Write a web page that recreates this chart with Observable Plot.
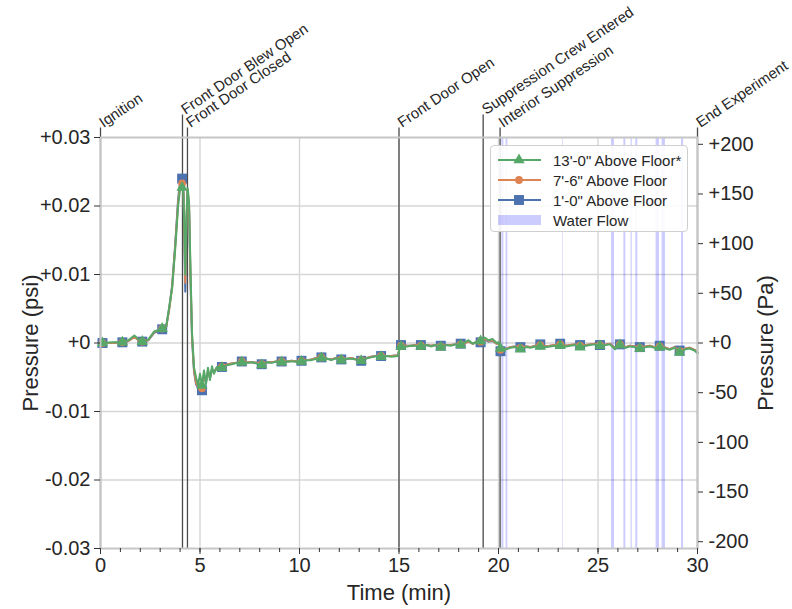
<!DOCTYPE html>
<html>
<head>
<meta charset="utf-8">
<script src="https://cdn.jsdelivr.net/npm/d3@7"></script>
<script src="https://cdn.jsdelivr.net/npm/@observablehq/plot@0.6"></script>
<style>
  html, body { margin: 0; padding: 0; background: #fff; }
  #wrap { position: relative; width: 792px; height: 609px; font-family: 'Liberation Sans', Arial, sans-serif; }
  #legend { position: absolute; left: 490px; top: 145px; width: 198px; height: 87px; box-sizing: border-box;
            background: rgba(255,255,255,0.9); border: 1px solid #cfcfcf; border-radius: 4px; padding-top: 4px; }
  .row { height: 20px; display: flex; align-items: center; font-size: 15px; color: #262626; }
  .row svg { margin-left: 6px; margin-right: 12px; }
</style>
</head>
<body>
<div id="wrap">
  <div id="chart"></div>
  <div id="legend"></div>
</div>
<script>
// ---- data (time in minutes, pressure in psi) ----
const T = [0.1, 0.6, 1.1, 1.4, 1.7, 2.0, 2.1, 2.4, 2.7, 3.1, 3.3, 3.45, 3.6, 3.75, 3.9, 4.0, 4.1, 4.17, 4.22, 4.26,
  4.32, 4.38, 4.45, 4.52, 4.6, 4.7, 4.8, 4.9, 5.0, 5.1, 5.2, 5.3, 5.4, 5.5, 5.6, 5.7, 5.85, 6.1, 6.4, 6.6,
  6.85, 7.1, 7.4, 7.6, 7.85, 8.1, 8.4, 8.6, 8.85, 9.1, 9.4, 9.6, 9.85, 10.1, 10.4, 10.6, 10.85, 11.1, 11.4, 11.6,
  11.85, 12.1, 12.4, 12.6, 12.85, 13.1, 13.4, 13.6, 13.85, 14.1, 14.4, 14.6, 14.95, 15.05, 15.1, 15.4, 15.6, 15.85, 16.1, 16.4,
  16.6, 16.85, 17.1, 17.4, 17.6, 17.85, 18.1, 18.3, 18.5, 18.7, 18.9, 19.1, 19.3, 19.5, 19.7, 19.9, 20.0, 20.1, 20.4, 20.6,
  20.85, 21.1, 21.4, 21.6, 21.85, 22.1, 22.4, 22.6, 22.85, 23.1, 23.4, 23.6, 23.85, 24.1, 24.4, 24.6, 24.85, 25.1, 25.4, 25.6,
  25.85, 26.1, 26.4, 26.6, 26.85, 27.1, 27.4, 27.6, 27.85, 28.1, 28.4, 28.6, 28.85, 29.1, 29.4, 29.6, 29.85, 30.0];

const p1ft = [0.0000, 0.0000, 0.0001, 0.0003, 0.0009, 0.0002, 0.0002, 0.0004, 0.0015, 0.0020, 0.0023, 0.0050, 0.0084, 0.0142, 0.0210, 0.0236, 0.0240, 0.0222, 0.0140, 0.0075,
  0.0175, 0.0222, 0.0195, 0.0095, 0.0005, -0.0042, -0.0060, -0.0066, -0.0060, -0.0069, -0.0046, -0.0058, -0.0041, -0.0051, -0.0039, -0.0042, -0.0036, -0.0035, -0.0031, -0.0030,
  -0.0029, -0.0027, -0.0028, -0.0028, -0.0029, -0.0031, -0.0028, -0.0028, -0.0027, -0.0027, -0.0027, -0.0026, -0.0027, -0.0026, -0.0025, -0.0024, -0.0022, -0.0021, -0.0023, -0.0024,
  -0.0022, -0.0024, -0.0023, -0.0022, -0.0024, -0.0026, -0.0022, -0.0020, -0.0019, -0.0019, -0.0019, -0.0019, -0.0018, -0.0004, -0.0003, -0.0004, -0.0004, -0.0003, -0.0003, -0.0003,
  -0.0004, -0.0003, -0.0004, -0.0003, -0.0003, -0.0002, -0.0001, 0.0000, 0.0002, -0.0001, 0.0001, 0.0001, 0.0005, 0.0002, 0.0003, -0.0001, 0.0000, -0.0012, -0.0008, -0.0006,
  -0.0005, -0.0006, -0.0005, -0.0006, -0.0004, -0.0002, -0.0005, -0.0004, -0.0003, -0.0001, -0.0004, -0.0003, -0.0002, -0.0003, -0.0003, -0.0002, -0.0001, -0.0003, -0.0002, -0.0001,
  -0.0007, -0.0002, -0.0006, -0.0004, -0.0005, -0.0006, -0.0005, -0.0004, -0.0006, -0.0004, -0.0007, -0.0009, -0.0006, -0.0011, -0.0008, -0.0007, -0.0010, -0.0014];

const p7ft6 = [0.0000, 0.0000, 0.0001, 0.0003, 0.0009, 0.0002, 0.0002, 0.0004, 0.0016, 0.0021, 0.0024, 0.0048, 0.0082, 0.0140, 0.0205, 0.0230, 0.0233, 0.0220, 0.0150, 0.0088,
  0.0180, 0.0224, 0.0200, 0.0100, 0.0010, -0.0040, -0.0058, -0.0064, -0.0059, -0.0066, -0.0046, -0.0056, -0.0041, -0.0050, -0.0039, -0.0042, -0.0036, -0.0035, -0.0031, -0.0030,
  -0.0029, -0.0027, -0.0028, -0.0028, -0.0029, -0.0031, -0.0028, -0.0028, -0.0027, -0.0027, -0.0027, -0.0026, -0.0027, -0.0026, -0.0025, -0.0024, -0.0022, -0.0021, -0.0023, -0.0024,
  -0.0022, -0.0024, -0.0023, -0.0022, -0.0024, -0.0025, -0.0022, -0.0020, -0.0019, -0.0019, -0.0019, -0.0019, -0.0018, -0.0004, -0.0004, -0.0004, -0.0004, -0.0003, -0.0004, -0.0003,
  -0.0004, -0.0003, -0.0005, -0.0003, -0.0003, -0.0002, -0.0002, 0.0000, 0.0002, -0.0001, 0.0001, 0.0002, 0.0006, 0.0003, 0.0004, -0.0001, 0.0000, -0.0010, -0.0008, -0.0006,
  -0.0005, -0.0007, -0.0005, -0.0006, -0.0004, -0.0003, -0.0005, -0.0004, -0.0003, -0.0002, -0.0004, -0.0003, -0.0002, -0.0004, -0.0003, -0.0002, -0.0001, -0.0003, -0.0002, -0.0001,
  -0.0008, -0.0002, -0.0006, -0.0004, -0.0005, -0.0007, -0.0005, -0.0004, -0.0006, -0.0005, -0.0007, -0.0009, -0.0006, -0.0012, -0.0008, -0.0007, -0.0010, -0.0014];

const p13ft = [0.0000, 0.0001, 0.0001, 0.0004, 0.0011, 0.0003, 0.0002, 0.0005, 0.0017, 0.0021, 0.0024, 0.0052, 0.0080, 0.0136, 0.0200, 0.0225, 0.0227, 0.0218, 0.0160, 0.0100,
  0.0185, 0.0226, 0.0205, 0.0110, 0.0015, -0.0036, -0.0050, -0.0062, -0.0045, -0.0062, -0.0040, -0.0060, -0.0036, -0.0054, -0.0034, -0.0045, -0.0035, -0.0036, -0.0032, -0.0031,
  -0.0029, -0.0028, -0.0029, -0.0028, -0.0030, -0.0032, -0.0028, -0.0029, -0.0027, -0.0028, -0.0027, -0.0027, -0.0027, -0.0027, -0.0025, -0.0025, -0.0023, -0.0022, -0.0023, -0.0025,
  -0.0022, -0.0025, -0.0023, -0.0023, -0.0024, -0.0026, -0.0022, -0.0021, -0.0019, -0.0020, -0.0019, -0.0020, -0.0019, -0.0005, -0.0005, -0.0005, -0.0004, -0.0004, -0.0005, -0.0003,
  -0.0005, -0.0003, -0.0006, -0.0003, -0.0004, -0.0002, -0.0003, 0.0001, 0.0004, -0.0001, 0.0002, 0.0003, 0.0008, 0.0004, 0.0006, 0.0000, 0.0001, -0.0008, -0.0009, -0.0007,
  -0.0006, -0.0009, -0.0006, -0.0007, -0.0005, -0.0005, -0.0006, -0.0005, -0.0004, -0.0004, -0.0005, -0.0004, -0.0003, -0.0006, -0.0004, -0.0003, -0.0002, -0.0004, -0.0003, -0.0002,
  -0.0009, -0.0003, -0.0007, -0.0005, -0.0006, -0.0008, -0.0006, -0.0005, -0.0007, -0.0006, -0.0008, -0.0010, -0.0007, -0.0014, -0.0009, -0.0008, -0.0011, -0.0015];

const seriesNames = ["1'-0\" Above Floor", "7'-6\" Above Floor", "13'-0\" Above Floor*"];
const seriesColors = ["#4c72b0", "#dd8452", "#55a868"];
const seriesSymbols = ["square", "circle", "triangle"];
const seriesValues = [p1ft, p7ft6, p13ft];

const eventTimes = [0, 4.12, 4.37, 15, 19.23, 20.08, 30];
const eventLabels = ["Ignition", "Front Door Blew Open", "Front Door Closed", "Front Door Open",
  "Suppression Crew Entered", "Interior Suppression", "End Experiment"];
const eventRaised = [false, true, false, false, true, false, false];

const waterStart = [20.17, 20.38, 23.23, 25.68, 26.3, 26.66, 26.9, 27.92, 28.22, 29.2];
const waterEnd   = [20.27, 20.47, 23.26, 25.83, 26.4, 26.72, 27.0, 28.09, 28.39, 29.3];
const waterLabel = "Water Flow";

const psiTicks = [-0.03, -0.02, -0.01, 0, 0.01, 0.02, 0.03];
const paTicks = [-200, -150, -100, -50, 0, 50, 100, 150, 200];
const timeTicks = [0, 5, 10, 15, 20, 25, 30];
const minuteTicks = [0,1,2,3,4,5,6,7,8,9,10,11,12,13,14,15,16,17,18,19,20,21,22,23,24,25,26,27,28,29,30];

const PA_PER_PSI = 6894.757;

// ---- build tables ----
const series = seriesNames.map((name, i) => ({name, color: seriesColors[i], symbol: seriesSymbols[i],
  rows: T.map((t, j) => ({t, v: seriesValues[i][j]}))}));
const isMarker = d => Math.abs(d.t - Math.floor(d.t) - 0.1) < 1e-9;
const events = eventTimes.map((t, i) => ({t, label: eventLabels[i], top: eventRaised[i] ? 0.0333 : 0.0314}));
const water = waterStart.map((s, i) => ({start: s, end: waterEnd[i]}));

const markR = {square: 5.6, circle: 3.9, triangle: 4.2};
const seriesMarks = [];
for (const s of series) {
  seriesMarks.push(Plot.line(s.rows, {x: "t", y: "v", stroke: s.color, strokeWidth: 2}));
  seriesMarks.push(Plot.dot(s.rows.filter(isMarker), {x: "t", y: "v", symbol: s.symbol, fill: s.color, r: markR[s.symbol]}));
}

const psiFmt = d => d === 0 ? "+0" : (d > 0 ? "+" : "-") + Math.abs(d).toFixed(2);
const paFmt = d => { const pa = Math.round(d * PA_PER_PSI); return pa === 0 ? "+0" : (pa > 0 ? "+" : "-") + Math.abs(pa); };

const chart = Plot.plot({
  width: 792,
  height: 609,
  marginTop: 137,
  marginBottom: 61,
  marginLeft: 100,
  marginRight: 95,
  x: {domain: [0, 30]},
  y: {domain: [-0.03, 0.03]},
  style: {fontFamily: "'Liberation Sans', Arial, sans-serif", fontSize: "15px", color: "#262626", background: "#fff", overflow: "visible"},
  marks: [
    Plot.gridY(psiTicks.slice(1, -1), {stroke: "#d6d6d6", strokeOpacity: 1, strokeWidth: 1.4}),
    Plot.gridX(timeTicks.slice(1, -1), {stroke: "#d6d6d6", strokeOpacity: 1, strokeWidth: 1.4}),
    Plot.rect(water, {x1: "start", x2: "end", fill: "#0000ff", fillOpacity: 0.2}),
    Plot.ruleX(events, {x: "t", y1: -0.03, y2: "top", stroke: "#4a4a4a", strokeWidth: 1.3}),
    ...seriesMarks,
    Plot.frame({stroke: "#c6c6c6", strokeWidth: 2}),
    Plot.axisY(psiTicks, {anchor: "left", tickFormat: psiFmt, tickSize: 6, tickPadding: 4, fontSize: 20, stroke: "#333", fill: "#262626", label: null}),
    Plot.axisY(paTicks.map(p => p / PA_PER_PSI), {anchor: "right", tickFormat: paFmt, tickSize: 5, tickPadding: 6, fontSize: 20, stroke: "#333", fill: "#262626", label: null}),
    Plot.axisX(minuteTicks, {anchor: "bottom", tickFormat: () => "", tickSize: 4, stroke: "#333", label: null}),
    Plot.axisX(timeTicks, {anchor: "bottom", tickFormat: d => String(d), tickSize: 6, tickPadding: 3, fontSize: 20, stroke: "#333", fill: "#262626", label: null}),
    Plot.text(events, {x: "t", y: "top", text: "label", rotate: -34, textAnchor: "start", lineAnchor: "bottom", dx: 3, dy: 0, fontSize: 15, fill: "#262626"}),
    Plot.text(["Pressure (psi)"], {text: d => d, frameAnchor: "left", textAnchor: "middle", lineAnchor: "middle", dx: -70, rotate: -90, fontSize: 22, fill: "#262626"}),
    Plot.text(["Pressure (Pa)"], {text: d => d, frameAnchor: "right", textAnchor: "middle", lineAnchor: "middle", dx: 68, rotate: -90, fontSize: 22, fill: "#262626"}),
    Plot.text(["Time (min)"], {text: d => d, frameAnchor: "bottom", textAnchor: "middle", lineAnchor: "middle", dy: 44, fontSize: 22, fill: "#262626"})
  ]
});
document.getElementById("chart").appendChild(chart);

// ---- legend (HTML overlay) ----
const legend = document.getElementById("legend");
const ns = "http://www.w3.org/2000/svg";
function symbolPath(sym, r) {
  const type = sym === "square" ? d3.symbolSquare : sym === "circle" ? d3.symbolCircle : d3.symbolTriangle;
  return d3.symbol(type, Math.PI * r * r)();
}
const order = [2, 1, 0];
for (const i of order) {
  const s = series[i];
  const row = document.createElement("div");
  row.className = "row";
  const svg = document.createElementNS(ns, "svg");
  svg.setAttribute("width", 44); svg.setAttribute("height", 14);
  const ln = document.createElementNS(ns, "line");
  ln.setAttribute("x1", 1); ln.setAttribute("x2", 44); ln.setAttribute("y1", 7); ln.setAttribute("y2", 7);
  ln.setAttribute("stroke", s.color); ln.setAttribute("stroke-width", 2);
  svg.appendChild(ln);
  const p = document.createElementNS(ns, "path");
  p.setAttribute("d", symbolPath(s.symbol, markR[s.symbol]));
  p.setAttribute("transform", "translate(22,7)");
  p.setAttribute("fill", s.color);
  svg.appendChild(p);
  row.appendChild(svg);
  const tx = document.createElement("span");
  tx.textContent = s.name;
  row.appendChild(tx);
  legend.appendChild(row);
}
{
  const row = document.createElement("div");
  row.className = "row";
  const svg = document.createElementNS(ns, "svg");
  svg.setAttribute("width", 44); svg.setAttribute("height", 14);
  const r = document.createElementNS(ns, "rect");
  r.setAttribute("x", 1); r.setAttribute("y", 2); r.setAttribute("width", 43); r.setAttribute("height", 10);
  r.setAttribute("fill", "#0000ff"); r.setAttribute("fill-opacity", 0.2);
  svg.appendChild(r);
  row.appendChild(svg);
  const tx = document.createElement("span");
  tx.textContent = waterLabel;
  row.appendChild(tx);
  legend.appendChild(row);
}
</script>
</body>
</html>
